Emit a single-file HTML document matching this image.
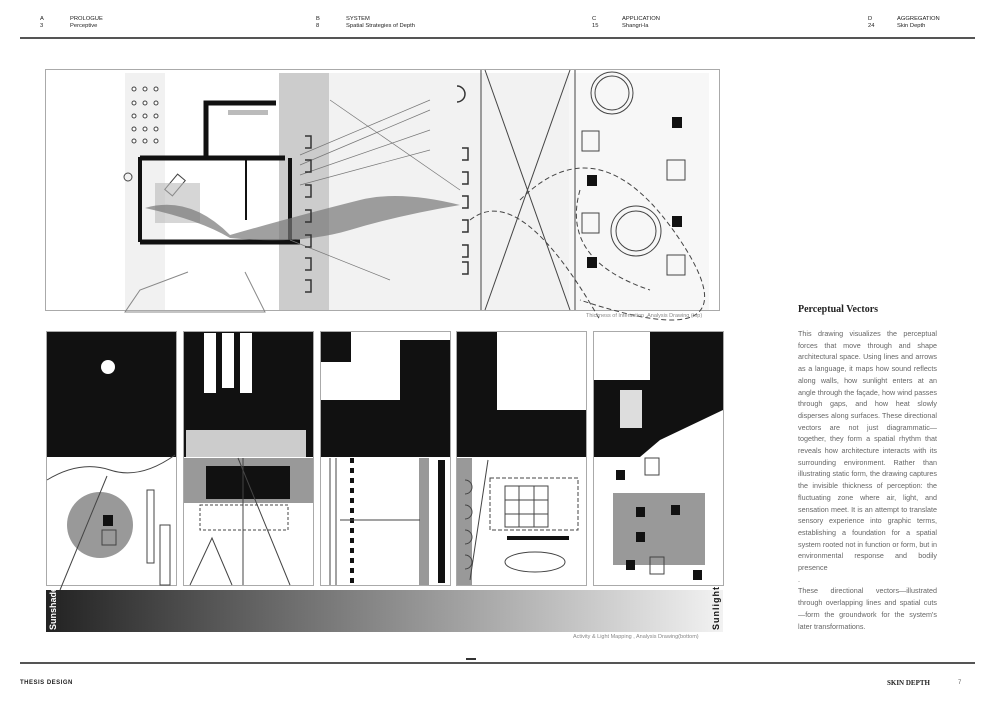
<!DOCTYPE html>
<html><head><meta charset="utf-8"><style>
body{margin:0;width:993px;height:701px;background:#fff;position:relative;overflow:hidden;font-family:"Liberation Sans",sans-serif}
.h{position:absolute;font-size:5.8px;line-height:7px;color:#222;font-family:"Liberation Sans",sans-serif}
.body{position:absolute;left:798px;top:328px;width:139px;font-size:7.2px;line-height:11.7px;color:#666;text-align:justify}
.cap{position:absolute;font-size:5.5px;color:#888}
</style></head><body>
<div class="h" style="left:40px;top:16px">A<br>3</div>
<div class="h" style="left:70px;top:16px">PROLOGUE<br>Perceptive</div>
<div class="h" style="left:316px;top:16px">B<br>8</div>
<div class="h" style="left:346px;top:16px">SYSTEM<br>Spatial Strategies of Depth</div>
<div class="h" style="left:592px;top:16px">C<br>15</div>
<div class="h" style="left:622px;top:16px">APPLICATION<br>Shangri-la</div>
<div class="h" style="left:868px;top:16px">D<br>24</div>
<div class="h" style="left:897px;top:16px">AGGREGATION<br>Skin Depth</div>
<div style="position:absolute;left:20px;top:37px;width:955px;height:1.5px;background:#555"></div>

<svg style="position:absolute;left:0;top:0" width="993" height="701">
<defs><linearGradient id="g" x1="0" x2="1"><stop offset="0" stop-color="#222"/><stop offset="1" stop-color="#f2f2f2"/></linearGradient></defs>
<rect x="45.5" y="69.5" width="674" height="241" fill="#fff" stroke="#aaa"/>
<rect x="125" y="73" width="40" height="237" fill="#f1f1f1"/>
<rect x="279" y="73" width="50" height="237" fill="#ccc"/>
<rect x="329" y="73" width="240" height="237" fill="#f2f2f2"/>
<rect x="569" y="73" width="140" height="237" fill="#f7f7f7"/>
<g stroke="#444" fill="none">
<line x1="481" y1="70" x2="481" y2="310"/><line x1="575" y1="70" x2="575" y2="310"/>
<line x1="485" y1="70" x2="570" y2="310"/><line x1="570" y1="70" x2="485" y2="310"/>
<circle cx="612" cy="93" r="21"/><circle cx="612" cy="93" r="17"/>
<circle cx="636" cy="231" r="25"/><circle cx="636" cy="231" r="20"/>
<rect x="582" y="131" width="17" height="20"/><rect x="667" y="160" width="18" height="20"/><rect x="582" y="213" width="17" height="20"/><rect x="667" y="255" width="18" height="20"/>
<path d="M520 200 Q600 120 680 240 T580 300" stroke-dasharray="5 3"/>
<path d="M470 220 Q520 180 600 320" stroke-dasharray="5 3"/>
<path d="M580 190 Q560 260 650 290" stroke-dasharray="5 3"/>
<polyline points="188,272 140,290 125,312 265,312 245,272" stroke="#888"/>
<line x1="140" y1="157" x2="140" y2="242" stroke="#111" stroke-width="4"/>
<line x1="140" y1="158" x2="285" y2="158" stroke="#111" stroke-width="5"/>
<line x1="140" y1="242" x2="300" y2="242" stroke="#111" stroke-width="5"/>
<polyline points="206,158 206,103 276,103" stroke="#111" stroke-width="5"/>
<line x1="290" y1="158" x2="290" y2="240" stroke="#111" stroke-width="4"/>
<line x1="246" y1="158" x2="246" y2="220" stroke="#111" stroke-width="2"/>
<rect x="170" y="175" width="10" height="20" transform="rotate(40 175 185)"/>
<circle cx="128" cy="177" r="4"/>
</g>
<rect x="228" y="110" width="40" height="5" fill="#bbb"/>
<rect x="155" y="183" width="45" height="40" fill="#bbb" opacity=".6"/>
<path d="M145 208 Q190 195 230 235 Q300 215 360 200 Q400 190 460 205 Q400 215 350 230 Q300 245 230 238 Q200 220 145 208Z" fill="#777" opacity=".7"/>
<g fill="none" stroke="#777" stroke-width=".7">
<line x1="300" y1="165" x2="430" y2="110"/><line x1="300" y1="175" x2="430" y2="130"/><line x1="300" y1="185" x2="430" y2="150"/><line x1="300" y1="155" x2="430" y2="100"/>
<line x1="330" y1="100" x2="460" y2="190"/><line x1="290" y1="240" x2="390" y2="280"/>
</g>
<g fill="#fff" stroke="#444"><circle cx="134" cy="89" r="2"/><circle cx="145" cy="89" r="2"/><circle cx="156" cy="89" r="2"/><circle cx="134" cy="103" r="2"/><circle cx="145" cy="103" r="2"/><circle cx="156" cy="103" r="2"/><circle cx="134" cy="116" r="2"/><circle cx="145" cy="116" r="2"/><circle cx="156" cy="116" r="2"/><circle cx="134" cy="129" r="2"/><circle cx="145" cy="129" r="2"/><circle cx="156" cy="129" r="2"/><circle cx="134" cy="141" r="2"/><circle cx="145" cy="141" r="2"/><circle cx="156" cy="141" r="2"/></g>
<g fill="none" stroke="#333" stroke-width="1.5">
<path d="M305 136h6v12h-6M305 160h6v12h-6M305 185h6v12h-6M305 210h6v12h-6M305 235h6v12h-6M305 258h6v12h-6M305 280h6v12h-6"/>
<path d="M462 148h6v12h-6M462 172h6v12h-6M462 196h6v12h-6M462 220h6v12h-6M462 245h6v12h-6M462 262h6v12h-6"/>
<path d="M457 86a8 8 0 0 1 0 16"/>
</g>
<g fill="#111"><rect x="587" y="175" width="10" height="11"/><rect x="672" y="117" width="10" height="11"/><rect x="672" y="216" width="10" height="11"/><rect x="587" y="257" width="10" height="11"/></g>
<g stroke="#aaa" fill="#fff">
<rect x="46.5" y="331.5" width="130" height="254"/><rect x="183.5" y="331.5" width="130" height="254"/><rect x="320.5" y="331.5" width="130" height="254"/><rect x="456.5" y="331.5" width="130" height="254"/><rect x="593.5" y="331.5" width="130" height="254"/>
</g>
<g fill="#111">
<rect x="47" y="332" width="129" height="125"/>
<rect x="184" y="332" width="129" height="125"/>
<rect x="321" y="400" width="129" height="57"/><rect x="321" y="332" width="30" height="30"/><rect x="400" y="340" width="50" height="117"/>
<rect x="457" y="332" width="40" height="125"/><rect x="497" y="410" width="89" height="47"/>
<rect x="594" y="380" width="129" height="77"/><rect x="650" y="332" width="73" height="50"/>
</g>
<g fill="#fff"><rect x="204" y="333" width="12" height="60"/><rect x="222" y="333" width="12" height="55"/><rect x="240" y="333" width="12" height="60"/><rect x="186" y="430" width="120" height="27" fill="#ccc"/><circle cx="108" cy="367" r="7"/><rect x="620" y="390" width="22" height="38" fill="#ddd"/><path d="M660 440 L723 410 L723 457 L640 457Z"/></g>
<circle cx="100" cy="525" r="33" fill="#999"/>
<rect x="103" y="515" width="10" height="11" fill="#111"/><rect x="102" y="530" width="14" height="15" fill="none" stroke="#444"/>
<rect x="184" y="458" width="129" height="45" fill="#999"/><rect x="206" y="466" width="84" height="33" fill="#111"/>
<rect x="419" y="458" width="10" height="127" fill="#999"/><rect x="438" y="460" width="7" height="123" fill="#111"/>
<rect x="457" y="458" width="15" height="127" fill="#999"/>
<rect x="613" y="493" width="92" height="72" fill="#999"/>
<g fill="#111"><rect x="636" y="507" width="9" height="10"/><rect x="616" y="470" width="9" height="10"/><rect x="671" y="505" width="9" height="10"/><rect x="636" y="532" width="9" height="10"/><rect x="626" y="560" width="9" height="10"/><rect x="693" y="570" width="9" height="10"/><rect x="507" y="536" width="62" height="4"/></g>
<g fill="none" stroke="#444">
<rect x="490" y="478" width="88" height="52" stroke-dasharray="4 2"/><rect x="505" y="486" width="43" height="41"/><line x1="519" y1="486" x2="519" y2="527"/><line x1="534" y1="486" x2="534" y2="527"/><line x1="505" y1="500" x2="548" y2="500"/><line x1="505" y1="514" x2="548" y2="514"/>
<ellipse cx="535" cy="562" rx="30" ry="10"/>
<line x1="488" y1="460" x2="470" y2="580"/>
<rect x="645" y="458" width="14" height="17"/><rect x="650" y="557" width="14" height="17"/>
<rect x="147" y="490" width="7" height="73"/><rect x="160" y="525" width="10" height="60"/>
<path d="M47 480 Q80 460 110 470 T175 455"/>
<line x1="60" y1="590" x2="107" y2="476"/>
<line x1="243" y1="458" x2="243" y2="585"/><line x1="238" y1="458" x2="290" y2="585"/>
<path d="M190 585 L212 538 L232 585"/>
<rect x="200" y="505" width="88" height="25" stroke-dasharray="3 2"/>
<path d="M330 458 V585M336 458V585"/>
<line x1="352" y1="458" x2="352" y2="585" stroke="#111" stroke-width="4" stroke-dasharray="5 5"/>
<line x1="340" y1="520" x2="420" y2="520"/>
</g>
<g fill="none" stroke="#444"><path d="M465 480a7 7 0 0 1 0 14M465 505a7 7 0 0 1 0 14M465 530a7 7 0 0 1 0 14M465 555a7 7 0 0 1 0 14"/></g>
<rect x="46" y="590" width="677" height="42" fill="url(#g)"/>
<text transform="translate(56 630) rotate(-90)" font-family="Liberation Sans" font-weight="bold" font-size="9" fill="#fff">Sunshade</text>
<text transform="translate(719 630) rotate(-90)" font-family="Liberation Sans" font-weight="bold" font-size="9" fill="#111" letter-spacing="1">Sunlight</text>
</svg>
<div class="cap" style="left:586px;top:313px">Thickness of Interaction ,Analysis Drawing (top)</div>
<div class="cap" style="left:573px;top:634px">Activity &amp; Light Mapping , Analysis Drawing(bottom)</div>
<div style="position:absolute;left:798px;top:304px;font-family:'Liberation Serif',serif;font-weight:bold;font-size:10px;color:#222">Perceptual Vectors</div>
<div class="body">This drawing visualizes the perceptual forces that move through and shape architectural space. Using lines and arrows as a language, it maps how sound reflects along walls, how sunlight enters at an angle through the façade, how wind passes through gaps, and how heat slowly disperses along surfaces. These directional vectors are not just diagrammatic—together, they form a spatial rhythm that reveals how architecture interacts with its surrounding environment. Rather than illustrating static form, the drawing captures the invisible thickness of perception: the fluctuating zone where air, light, and sensation meet. It is an attempt to translate sensory experience into graphic terms, establishing a foundation for a spatial system rooted not in function or form, but in environmental response and bodily presence<br>.<br>These directional vectors—illustrated through overlapping lines and spatial cuts—form the groundwork for the system's later transformations.</div>
<div style="position:absolute;left:20px;top:662px;width:955px;height:1.5px;background:#555"></div>
<div style="position:absolute;left:466px;top:658px;width:10px;height:2px;background:#333"></div>
<div class="h" style="left:20px;top:680px;font-size:6px;font-weight:bold;letter-spacing:.5px">THESIS DESIGN</div>
<div style="position:absolute;left:887px;top:679px;font-family:'Liberation Serif',serif;font-weight:bold;font-size:7px;color:#222">SKIN DEPTH</div>
<div class="h" style="left:958px;top:680px;font-size:6px;color:#666">7</div>
</body></html>
